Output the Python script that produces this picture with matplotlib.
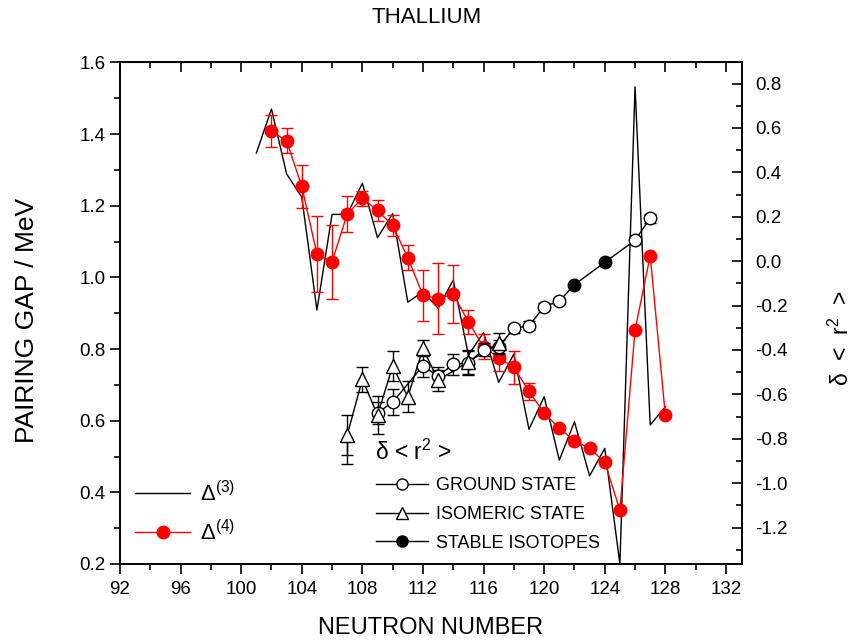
import numpy as np
import matplotlib
matplotlib.use("Agg")
import matplotlib.pyplot as plt
from matplotlib.lines import Line2D
from matplotlib.ticker import MultipleLocator

plt.rcParams['font.family'] = ['Liberation Sans', 'DejaVu Sans']
plt.rcParams['mathtext.fontset'] = 'custom'
plt.rcParams['mathtext.rm'] = 'Liberation Sans'
plt.rcParams['mathtext.it'] = 'Liberation Sans'

# ---- Data ----
# Delta(3) pairing gap (MeV)
d3_n = [101, 102, 103, 104, 105, 106, 107, 108, 109, 110, 111, 112, 113, 114,
        115, 116, 117, 118, 119, 120, 121, 122, 123, 124, 125, 126, 127, 128]
d3_v = [1.347, 1.470, 1.289, 1.224, 0.909, 1.176, 1.176, 1.263, 1.111, 1.178,
        0.931, 0.960, 0.914, 0.993, 0.783, 0.846, 0.707, 0.786, 0.576, 0.667,
        0.490, 0.597, 0.446, 0.523, 0.200, 1.532, 0.588, 0.639]

# Delta(4) pairing gap (MeV) with errors
d4_n = [102, 103, 104, 105, 106, 107, 108, 109, 110, 111, 112, 113, 114, 115,
        116, 117, 118, 119, 120, 121, 122, 123, 124, 125, 126, 127, 128]
d4_v = [1.408, 1.381, 1.254, 1.065, 1.044, 1.177, 1.221, 1.187, 1.145, 1.055,
        0.950, 0.941, 0.953, 0.876, 0.806, 0.776, 0.749, 0.682, 0.621, 0.579,
        0.544, 0.523, 0.484, 0.350, 0.853, 1.061, 0.615]
d4_e = [0.045, 0.035, 0.061, 0.107, 0.103, 0.049, 0.021, 0.029, 0.029, 0.035,
        0.072, 0.098, 0.081, 0.034, 0.035, 0.037, 0.047, 0.024, 0.0, 0.0,
        0.0, 0.0, 0.0, 0.0, 0.0, 0.0, 0.0]

# delta <r^2> ground state (fm^2)
gs_n = [109, 110, 112, 113, 114, 115, 116, 117, 118, 119, 120, 121, 126, 127]
gs_r = [-0.683, -0.635, -0.471, -0.518, -0.464, -0.458, -0.398, -0.386,
        -0.303, -0.291, -0.205, -0.180, 0.094, 0.194]
gs_e = [0.05, 0.059, 0.05, 0.04, 0.047, 0.055, 0.03, 0.03, 0.02, 0.02,
        0.015, 0.015, 0.015, 0.02]

# delta <r^2> isomeric state
is_n = [107, 108, 109, 110, 111, 112, 113, 115, 117]
is_r = [-0.783, -0.532, -0.693, -0.473, -0.611, -0.393, -0.536, -0.453, -0.368]
is_e = [0.09, 0.056, 0.084, 0.068, 0.07, 0.036, 0.047, 0.054, 0.045]

# delta <r^2> stable isotopes
st_n = [122, 124]
st_r = [-0.106, -0.005]

# ---- Figure ----
fig = plt.figure(figsize=(8.54, 6.4), dpi=100)
ax = fig.add_axes([0.1405, 0.11875, 0.728, 0.7836])
ax2 = ax.twinx()

ax.set_xlim(92, 133.04)
ax.set_ylim(0.2, 1.6)
ax2.set_ylim(-1.364, 0.895)

# Delta(3)
ax.plot(d3_n, d3_v, color='black', lw=1.0, zorder=3)

# Delta(4)
d4_n_a = np.array(d4_n); d4_v_a = np.array(d4_v); d4_e_a = np.array(d4_e)
m = d4_e_a > 0
ax.errorbar(d4_n_a[m], d4_v_a[m], yerr=d4_e_a[m], fmt='none', ecolor='red',
            elinewidth=1.0, capsize=4, capthick=1.0, zorder=4)
ax.plot(d4_n, d4_v, color='red', lw=1.0, marker='o', ms=9, mfc='red',
        mec='red', zorder=5)

# ground state + stable (line through all)
all_n = np.array(gs_n + st_n)
all_r = np.array(gs_r + st_r)
order = np.argsort(all_n)
ax2.plot(all_n[order], all_r[order], color='black', lw=1.0, zorder=3)
ax2.errorbar(gs_n, gs_r, yerr=gs_e, fmt='none', ecolor='black',
             elinewidth=1.0, capsize=4, capthick=1.0, zorder=4)
ax2.plot(gs_n, gs_r, ls='none', marker='o', ms=9, mfc='white', mec='black',
         mew=1.0, zorder=5)
ax2.plot(st_n, st_r, ls='none', marker='o', ms=9, mfc='black', mec='black',
         zorder=5)

# isomeric state
ax2.plot(is_n, is_r, color='black', lw=1.0, zorder=3)
ax2.errorbar(is_n, is_r, yerr=is_e, fmt='none', ecolor='black',
             elinewidth=1.0, capsize=4, capthick=1.0, zorder=4)
ax2.plot(is_n, is_r, ls='none', marker='^', ms=10, mfc='white', mec='black',
         mew=1.0, zorder=6)

# ---- Axes styling ----
TL = 13.5
ax.xaxis.set_major_locator(MultipleLocator(4))
ax.xaxis.set_minor_locator(MultipleLocator(2))
ax.yaxis.set_major_locator(MultipleLocator(0.2))
ax.yaxis.set_minor_locator(MultipleLocator(0.1))
ax2.yaxis.set_major_locator(MultipleLocator(0.2))
ax2.yaxis.set_minor_locator(MultipleLocator(0.1))
ax.yaxis.set_major_formatter(plt.FuncFormatter(lambda v, p: f"{v:.1f}"))
ax2.yaxis.set_major_formatter(plt.FuncFormatter(lambda v, p: f"{v:.1f}"))

ax.tick_params(axis='x', which='both', direction='out', top=False,
               labelsize=TL, width=1.2, pad=5)
ax.tick_params(axis='x', which='major', length=7)
ax.tick_params(axis='x', which='minor', length=4)
ax.tick_params(axis='y', which='both', direction='out', labelsize=TL,
               width=1.2)
ax.tick_params(axis='y', which='major', length=7)
ax.tick_params(axis='y', which='minor', length=4)
ax2.tick_params(axis='y', which='both', direction='in', labelsize=TL,
                width=1.2, pad=10)
ax2.tick_params(axis='y', which='major', length=7)
ax2.tick_params(axis='y', which='minor', length=4)

secx = ax.secondary_xaxis('top')
secx.xaxis.set_major_locator(MultipleLocator(4))
secx.xaxis.set_minor_locator(MultipleLocator(2))
secx.tick_params(axis='x', which='both', direction='in', labeltop=False,
                 width=1.2)
secx.tick_params(axis='x', which='major', length=7)
secx.tick_params(axis='x', which='minor', length=4)

for a in (ax, ax2):
    for s in a.spines.values():
        s.set_linewidth(1.2)

ax.set_xlabel('NEUTRON NUMBER', fontsize=17, labelpad=14)
ax.set_ylabel('PAIRING GAP / MeV', fontsize=19)
ax.yaxis.set_label_coords(-0.13, 0.485)
ax2.set_ylabel('δ  <  r$^2$  >', fontsize=16.5, rotation=90)
ax2.yaxis.set_label_coords(1.14, 0.45)
fig.text(0.5, 0.972, 'THALLIUM', ha='center', va='center', fontsize=16)

# ---- Legends ----
h3 = Line2D([], [], color='black', lw=1.0)
h4 = Line2D([], [], color='red', lw=1.0, marker='o', ms=9, mfc='red', mec='red')
leg1 = ax.legend([h3, h4], ['Δ$^{(3)}$', 'Δ$^{(4)}$'], loc='upper left',
                 bbox_to_anchor=(0.024, 0.1655), frameon=False, fontsize=16,
                 handlelength=2.5, handletextpad=0.45, labelspacing=0.62,
                 borderpad=0, borderaxespad=0)
ax.add_artist(leg1)

eb = ax.errorbar([np.nan], [np.nan], yerr=[1.0], fmt='none', ecolor='black',
                 elinewidth=1.0, capsize=4)
leg2 = ax.legend([eb], ['δ < r$^2$ >'], loc='upper left',
                 bbox_to_anchor=(0.3466, 0.247), frameon=False, fontsize=16.5,
                 handlelength=1.0, handletextpad=0.72, borderpad=0,
                 borderaxespad=0)
ax.add_artist(leg2)

hg = Line2D([], [], color='black', lw=1.0, marker='o', ms=8, mfc='white', mec='black')
hi = Line2D([], [], color='black', lw=1.0, marker='^', ms=9, mfc='white', mec='black')
hs = Line2D([], [], color='black', lw=1.0, marker='o', ms=8, mfc='black', mec='black')
leg3 = ax.legend([hg, hi, hs], ['GROUND STATE', 'ISOMERIC STATE', 'STABLE ISOTOPES'],
                 loc='upper left', bbox_to_anchor=(0.411, 0.173), frameon=False,
                 fontsize=13, handlelength=2.93, handletextpad=0.44,
                 labelspacing=0.65, borderpad=0, borderaxespad=0)

fig.savefig('out.png', dpi=100)
